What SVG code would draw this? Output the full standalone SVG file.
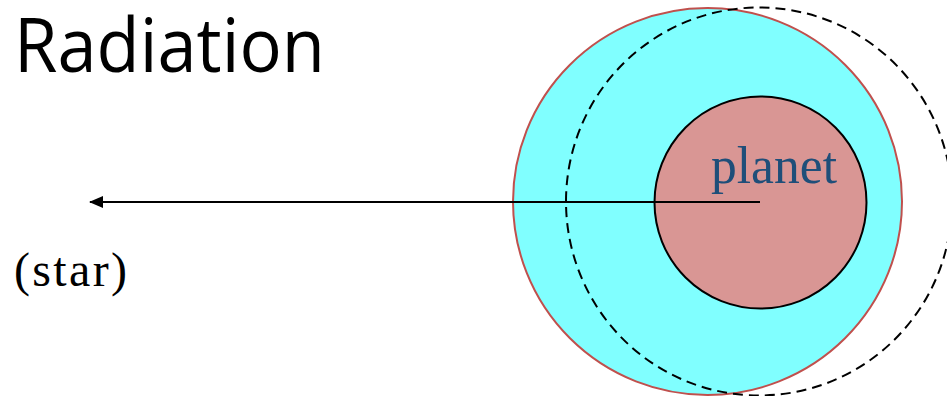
<svg xmlns="http://www.w3.org/2000/svg" width="947" height="396" viewBox="0 0 947 396">
<style>
.title{font-family:"Open Sans","Liberation Sans",sans-serif;font-size:75px;fill:#000}
.serif{font-family:"Liberation Serif","Noto Sans CJK SC",serif}
</style>
<defs>
<marker id="arr" markerWidth="14" markerHeight="12" refX="13" refY="6" orient="auto" markerUnits="userSpaceOnUse">
<path d="M0,0 L14,6 L0,12 Z" fill="#000"/>
</marker>
</defs>
<rect width="947" height="396" fill="#fff"/>
<text class="title" x="14" y="72" textLength="311" lengthAdjust="spacingAndGlyphs">Radiation</text>
<g id="atmosphere">
<ellipse cx="707.5" cy="201.5" rx="194.5" ry="193.5" fill="#80FFFF" stroke="#C0504D" stroke-width="2"/>
</g>
<g id="shifted-atmosphere">
<ellipse cx="759" cy="201.5" rx="193" ry="194" fill="none" stroke="#000" stroke-width="2" stroke-dasharray="10 6"/>
</g>
<g id="planet">
<circle cx="760.5" cy="202.5" r="106" fill="#D99694" stroke="#000" stroke-width="2"/>
<text class="serif" x="711" y="183" font-size="52" fill="#1F4E79" textLength="126" lengthAdjust="spacingAndGlyphs">planet</text>
</g>
<g id="connectors">
<line x1="760" y1="202" x2="90" y2="202" stroke="#000" stroke-width="2" marker-end="url(#arr)"/>
</g>
<g id="star">
<text class="serif" x="14" y="286" font-size="48" fill="#000" textLength="113" lengthAdjust="spacing">(star)</text>
</g>
</svg>
